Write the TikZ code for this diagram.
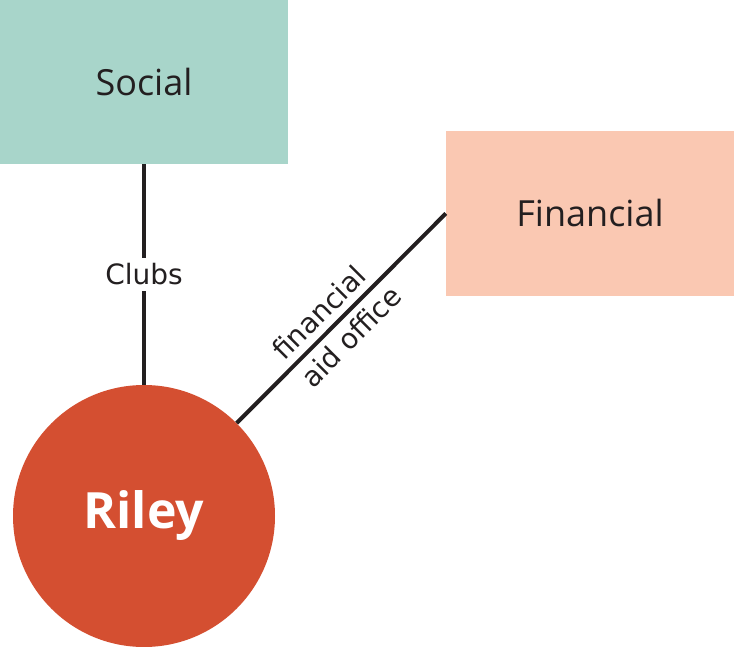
\documentclass[tikz,border=0pt]{standalone}
\usepackage{fontspec}
\setmainfont{Open Sans}
\newfontfamily\handfont{DejaVu Sans}
\definecolor{socialgreen}{HTML}{A8D5CA}
\definecolor{financepeach}{HTML}{FAC8B2}
\definecolor{rileyred}{HTML}{D44F31}
\definecolor{linkgray}{HTML}{231F20}
\begin{document}
\begin{tikzpicture}[x=1pt,y=-1pt,
    area/.style={rectangle, inner sep=0pt, minimum width=288pt, minimum height=164pt, font=\fontsize{36}{42}\selectfont, text=linkgray},
    person/.style={circle, inner sep=0pt, minimum size=262pt, fill=rileyred, text=white, font=\fontsize{50}{60}\selectfont\bfseries},
    link/.style={draw=linkgray, line width=4pt},
    linklabel/.style={font=\handfont\fontsize{28}{34}\selectfont, text=linkgray}]
    \useasboundingbox (0,0) rectangle (734,647);
    \node [area, fill=socialgreen] (social) at (144,82) {Social};
    \node [area, fill=financepeach, minimum height=165pt] (financial) at (590,213.5) {Financial};
    \node [person] (riley) at (144,516) {Riley};
    \draw [link] (social) -- node [linklabel, fill=white, inner sep=6pt] {Clubs} (riley);
    \draw [link] (financial.west) -- node [linklabel, sloped, above, inner sep=7pt, pos=0.54] {financial}
        node [linklabel, sloped, below, inner sep=7pt, pos=0.52] {aid office} (riley);
\end{tikzpicture}
\end{document}
